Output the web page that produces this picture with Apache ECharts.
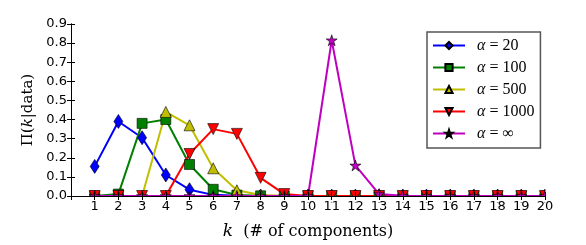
<!DOCTYPE html>
<html><head><meta charset="utf-8">
<script src="https://cdn.jsdelivr.net/npm/echarts@6/dist/echarts.min.js"></script>
<style>html,body{margin:0;padding:0;background:#fff}#c{width:586px;height:245px}</style>
</head><body><div id="c"></div>
<script>
const ks = [1,2,3,4,5,6,7,8,9,10,11,12,13,14,15,16,17,18,19,20];
const a20   = [0.155,0.39,0.305,0.11,0.033,0.006,0.001,0,0,0,0,0,0,0,0,0,0,0,0,0];
const a100  = [0,0.01,0.38,0.40,0.165,0.035,0.005,0.001,0,0,0,0,0,0,0,0,0,0,0,0];
const a500  = [0,0,0,0.44,0.37,0.145,0.03,0.005,0.001,0,0,0,0,0,0,0,0,0,0,0];
const a1000 = [0,0,0,0,0.22,0.35,0.325,0.095,0.01,0,0,0,0,0,0,0,0,0,0,0];
const aInf  = [0,0,0,0,0,0,0,0,0,0,0.815,0.16,0.01,0.001,0,0,0,0,0,0];
const names = ['20','100','500','1000','∞'];

const star = 'path://M50,0 L61.8,35.3 L100,35.3 L69.1,57.1 L80.9,92.7 L50,70.9 L19.1,92.7 L30.9,57.1 L0,35.3 L38.2,35.3 Z';
function pts(arr){ return ks.map((k,i)=>[k,arr[i]]); }
function ser(name, arr, color, symbol, size, rot){
  return {type:'line', name:name, data:pts(arr), symbol:symbol, symbolSize:size, symbolRotate:rot||0,
    showAllSymbols:true, lineStyle:{color:color,width:2}, itemStyle:{color:color,borderColor:'#000',borderWidth:0.6},
    emphasis:{disabled:true}, animation:false};
}
const chart = echarts.init(document.getElementById('c'));
const axLine = {show:true, lineStyle:{color:'#000',width:1}};
const L=71, R=545, T=24, B=196;
const lg = {fontFamily:'Liberation Serif',fontSize:16,color:'#000',lineHeight:19};
chart.setOption({
  animation:false,
  grid:{left:L,right:586-R,top:T,bottom:245-B},
  graphic:[
    {type:'rect',z:5,silent:true,shape:{x:L-8,y:B+0.5,width:R-L+20,height:6},style:{fill:'#fff'}},
    {type:'rect',z:5,silent:true,shape:{x:R+0.5,y:T-8,width:10,height:B-T+16},style:{fill:'#fff'}}
  ],
  xAxis:[{type:'value',z:10,min:0,max:20,interval:1,axisLine:axLine,splitLine:{show:false},
     axisTick:{inside:true,length:4,lineStyle:{color:'#000'}},
     axisLabel:{fontFamily:'DejaVu Sans',fontSize:13,color:'#000',margin:4,formatter:v=>v===0?'':String(v)},
     name:'{i|k}{n|  (# of components)}', nameLocation:'middle', nameGap:27,
     nameTextStyle:{rich:{i:{fontFamily:'DejaVu Serif',fontStyle:'italic',fontSize:17,color:'#000'},n:{fontFamily:'DejaVu Serif',fontSize:16,color:'#000'}}}},
    {type:'value',z:10,position:'top',min:0,max:20,interval:1,axisLine:axLine,splitLine:{show:false},
     axisTick:{inside:true,length:4,lineStyle:{color:'#000'}},axisLabel:{show:false}}],
  yAxis:[{type:'value',z:10,min:0,max:0.9,interval:0.1,axisLine:axLine,splitLine:{show:false},
     axisTick:{inside:true,length:4,lineStyle:{color:'#000'}},
     axisLabel:{fontFamily:'DejaVu Sans',fontSize:13,color:'#000',margin:4,formatter:v=>v.toFixed(1)},
     name:'{n|Π(}{i|k}{n||data)}', nameLocation:'middle', nameGap:30, nameRotate:90,
     nameTextStyle:{rich:{i:{fontFamily:'DejaVu Serif',fontStyle:'italic',fontSize:15,color:'#000'},n:{fontFamily:'DejaVu Serif',fontSize:15,color:'#000'}}}},
    {type:'value',z:10,position:'right',min:0,max:0.9,interval:0.1,axisLine:axLine,splitLine:{show:false},
     axisTick:{inside:true,length:4,lineStyle:{color:'#000'}},axisLabel:{show:false}}],
  legend:{z:20,left:427,top:32,orient:'vertical',padding:[4,6,5,5],itemGap:3,
    itemWidth:32,itemHeight:9,borderColor:'#555',borderWidth:1.5,backgroundColor:'#fff',
    data:names.map(n=>'a'+n),
    formatter:n=>'{i|α}{t| = '+n.slice(1)+'}',
    textStyle:Object.assign({padding:[0,0,0,7],rich:{i:Object.assign({fontStyle:'italic'},lg),t:lg}},lg)},
  series:[
    ser('a20',a20,'#0000ff','diamond',[9,14]),
    ser('a100',a100,'#008000','rect',10),
    ser('a500',a500,'#bfbf00','triangle',11),
    ser('a1000',a1000,'#ff0000','triangle',11,180),
    ser('a∞',aInf,'#bf00bf',star,11)
  ]
});
</script></body></html>
